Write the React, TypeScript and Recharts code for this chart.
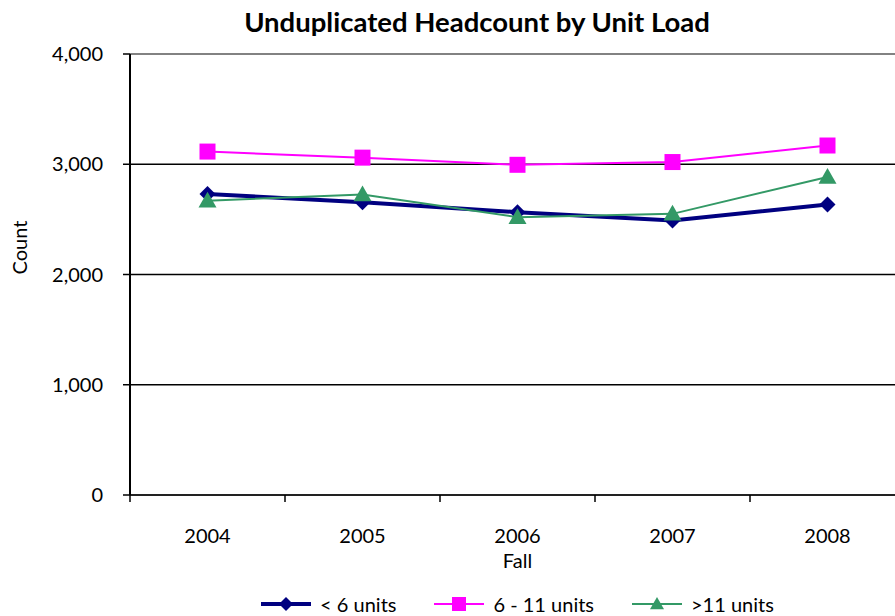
import React from 'react';
import {
  LineChart,
  Line,
  XAxis,
  YAxis,
  CartesianGrid,
  Legend,
  ReferenceLine,
} from 'recharts';

const years = ['2004', '2005', '2006', '2007', '2008'];
const underSix = [2730, 2655, 2565, 2490, 2635];
const sixToEleven = [3115, 3060, 2995, 3020, 3170];
const overEleven = [2670, 2725, 2520, 2550, 2885];
const yTicks = [0, 1000, 2000, 3000, 4000];

const data = years.map((year, i) => ({
  year,
  underSix: underSix[i],
  sixToEleven: sixToEleven[i],
  overEleven: overEleven[i],
}));

const FONT = 'Lato, "Open Sans", sans-serif';
const BAND = 155;

function Diamond({ cx, cy, size = 8, fill }: any) {
  if (cx == null || cy == null) return null;
  return (
    <path
      d={`M${cx},${cy - size} L${cx + size},${cy} L${cx},${cy + size} L${cx - size},${cy} Z`}
      fill={fill}
    />
  );
}

function Square({ cx, cy, size = 8, fill }: any) {
  if (cx == null || cy == null) return null;
  return <rect x={cx - size} y={cy - size} width={size * 2} height={size * 2} fill={fill} />;
}

function Triangle({ cx, cy, size = 8, fill }: any) {
  if (cx == null || cy == null) return null;
  return (
    <path
      d={`M${cx},${cy - size} L${cx + size},${cy + size * 0.75} L${cx - size},${cy + size * 0.75} Z`}
      fill={fill}
    />
  );
}

// category labels sit mid-band, tick marks go on the band edges (Excel style)
function YearTick({ x, y, payload }: any) {
  const left = x - BAND / 2;
  return (
    <g>
      <line x1={left} y1={y - 8} x2={left} y2={y - 1} stroke="#000" strokeWidth={1.5} />
      <text x={x} y={y + 40} textAnchor="middle" fontSize={20} fill="#000" fontFamily={FONT}>
        {payload.value}
      </text>
    </g>
  );
}

const legendItems = [
  { label: '< 6 units', color: '#000080', width: 4, marker: 'diamond' },
  { label: '6 - 11 units', color: '#FF00FF', width: 2, marker: 'square' },
  { label: '>11 units', color: '#339966', width: 2, marker: 'triangle' },
];

function LegendContent() {
  return (
    <div
      style={{
        marginLeft: 130,
        width: 775,
        height: 41,
        display: 'flex',
        justifyContent: 'center',
        alignItems: 'flex-end',
        gap: 38,
        fontFamily: FONT,
        fontSize: 20,
        lineHeight: '24px',
        color: '#000',
      }}
    >
      {legendItems.map((item) => (
        <div key={item.label} style={{ display: 'flex', alignItems: 'center', gap: 9 }}>
          <svg width={50} height={16}>
            <line x1={0} y1={8} x2={50} y2={8} stroke={item.color} strokeWidth={item.width} />
            {item.marker === 'diamond' && <Diamond cx={25} cy={8} size={7} fill={item.color} />}
            {item.marker === 'square' && <Square cx={25} cy={8} size={7} fill={item.color} />}
            {item.marker === 'triangle' && <Triangle cx={25} cy={8} size={7} fill={item.color} />}
          </svg>
          <span>{item.label}</span>
        </div>
      ))}
    </div>
  );
}

export default function App() {
  return (
    <div
      style={{
        position: 'fixed',
        left: 0,
        top: 0,
        width: 895,
        height: 616,
        overflow: 'hidden',
        background: '#fff',
      }}
    >
      <div
        style={{
          position: 'absolute',
          left: 0,
          top: 5,
          width: 895,
          textAlign: 'center',
          paddingLeft: 59,
          boxSizing: 'border-box',
          fontFamily: FONT,
          fontWeight: 700,
          fontSize: 27.5,
          lineHeight: '33px',
          color: '#000',
        }}
      >
        Unduplicated Headcount by Unit Load
      </div>
      <LineChart
        width={905}
        height={616}
        data={data}
        margin={{ top: 54, right: 0, left: 0, bottom: 0 }}
      >
        <CartesianGrid vertical={false} stroke="#000" strokeWidth={1.5} />
        <ReferenceLine y={4000} stroke="#999" strokeWidth={1.5} />
        <XAxis
          dataKey="year"
          height={80}
          padding={{ left: BAND / 2, right: BAND / 2 }}
          axisLine={{ stroke: '#222', strokeWidth: 2 }}
          tickLine={false}
          tick={<YearTick />}
          interval={0}
          label={{
            value: 'Fall',
            position: 'insideBottom',
            offset: 7,
            fontSize: 20,
            fill: '#000',
            fontFamily: FONT,
          }}
        />
        <YAxis
          width={130}
          domain={[0, 4000]}
          ticks={yTicks}
          interval={0}
          tickSize={7}
          tickMargin={20}
          axisLine={{ stroke: '#000', strokeWidth: 2 }}
          tickLine={{ stroke: '#000', strokeWidth: 1.5 }}
          tickFormatter={(v: number) => v.toLocaleString('en-US')}
          tick={{ fontSize: 20, fill: '#000', fontFamily: FONT }}
          label={{
            value: 'Count',
            angle: -90,
            position: 'insideLeft',
            offset: 20,
            fontSize: 20,
            fill: '#000',
            fontFamily: FONT,
          }}
        />
        <Legend
          verticalAlign="bottom"
          height={41}
          wrapperStyle={{ left: 0, width: 905 }}
          content={<LegendContent />}
        />
        <Line
          dataKey="underSix"
          name="< 6 units"
          stroke="#000080"
          strokeWidth={4}
          dot={<Diamond size={8} fill="#000080" />}
          isAnimationActive={false}
        />
        <Line
          dataKey="sixToEleven"
          name="6 - 11 units"
          stroke="#FF00FF"
          strokeWidth={2}
          dot={<Square size={8} fill="#FF00FF" />}
          isAnimationActive={false}
        />
        <Line
          dataKey="overEleven"
          name=">11 units"
          stroke="#339966"
          strokeWidth={2}
          dot={<Triangle size={9} fill="#339966" />}
          isAnimationActive={false}
        />
      </LineChart>
    </div>
  );
}
